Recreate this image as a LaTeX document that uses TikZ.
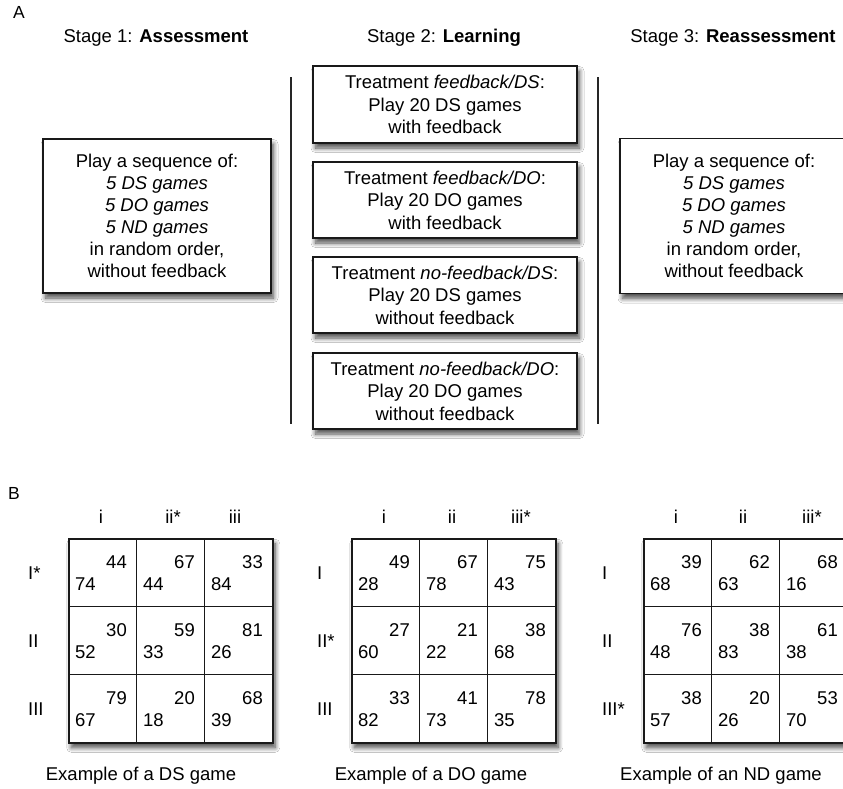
\documentclass[tikz,border=0pt]{standalone}
\usepackage{fontspec}
\setmainfont{Liberation Sans}
\usetikzlibrary{shadows.blur}
\tikzset{
  txt/.style={font=\fontsize{18.5}{22.5}\selectfont, inner sep=0pt, text=black},
  lbl/.style={font=\fontsize{17.5}{20}\selectfont, inner sep=0pt, text=black},
  shad/.style={blur shadow={shadow xshift=2.5pt, shadow yshift=-5pt, shadow blur radius=4.5pt, shadow blur steps=10, shadow opacity=70}},
  bx/.style={draw=black!90, line width=1.5pt, fill=white, align=center, inner sep=0pt,
     font=\fontsize{18.5}{22}\selectfont, text=black, shad},
  tbx/.style={bx, font=\fontsize{18.5}{22.5}\selectfont, minimum width=264pt},
  sepline/.style={draw=black!85, line width=1.3pt},
  gridframe/.style={draw=black!90, line width=1.5pt, fill=white, inner sep=0pt, shad},
  cellst/.style={draw=black!90, line width=1.3pt, inner sep=0pt, minimum width=68pt, minimum height=68pt},
  num/.style={font=\fontsize{18.5}{22}\selectfont, inner sep=0pt, text=black},
}
\newcommand\gamegrid[3]{%
  \node[gridframe, anchor=north west, minimum width=204pt, minimum height=204pt] (#1) at (#2,538) {};
  \foreach \cc/\rr/\tp/\bt in {#3} {
    \node[cellst, anchor=north west] (#1-\rr-\cc) at ({#2+(\cc-1)*68},{538+(\rr-1)*68}) {};
    \node[num, anchor=base east] (#1-\rr-\cc-t) at ({#2+\cc*68-9},{538+(\rr-1)*68+30}) {\tp};
    \node[num, anchor=base west] (#1-\rr-\cc-b) at ({#2+(\cc-1)*68+7},{538+(\rr-1)*68+52}) {\bt};
  }
}
\begin{document}
\begin{tikzpicture}[x=1pt,y=-1pt]
\useasboundingbox (0,0) rectangle (843,788);
\clip (0,0) rectangle (843,788);
\fill[white] (0,0) rectangle (843,788);

% Panel A
\node[lbl, anchor=base west] (labA) at (13,18) {A};
\node[txt, anchor=base] (h1) at (156,42) {Stage 1: \textbf{Assessment}};
\node[txt, anchor=base] (h2) at (444,42) {Stage 2: \textbf{Learning}};
\node[txt, anchor=base] (h3) at (733,42) {Stage 3: \textbf{Reassessment}};

\coordinate (s1t) at (291,77);
\coordinate (s1b) at (291,424);
\coordinate (s2t) at (598,77);
\coordinate (s2b) at (598,424);
\draw[sepline] (s1t) -- (s1b);
\draw[sepline] (s2t) -- (s2b);

\node[bx, minimum width=228pt, minimum height=154pt] (assess) at (157,216)
  {Play a sequence of:\\ \textit{5 DS games}\\ \textit{5 DO games}\\ \textit{5 ND games}\\ in random order,\\ without feedback};
\node[bx, minimum width=228pt, minimum height=155pt] (reassess) at (734,216)
  {Play a sequence of:\\ \textit{5 DS games}\\ \textit{5 DO games}\\ \textit{5 ND games}\\ in random order,\\ without feedback};

\node[tbx, minimum height=77pt] (t1) at (445,104.5)
  {Treatment \textit{feedback/DS}:\\ Play 20 DS games\\ with feedback};
\node[tbx, minimum height=76pt] (t2) at (445,200)
  {Treatment \textit{feedback/DO}:\\ Play 20 DO games\\ with feedback};
\node[tbx, minimum height=76pt] (t3) at (445,295)
  {Treatment \textit{no-feedback/DS}:\\ Play 20 DS games\\ without feedback};
\node[tbx, minimum height=76pt] (t4) at (445,391)
  {Treatment \textit{no-feedback/DO}:\\ Play 20 DO games\\ without feedback};

% Panel B
\node[lbl, anchor=base west] (labB) at (8,499) {B};

% Grid 1
\gamegrid{ga}{68}{1/1/44/74, 2/1/67/44, 3/1/33/84,
                  1/2/30/52, 2/2/59/33, 3/2/81/26,
                  1/3/79/67, 2/3/20/18, 3/3/68/39}
\node[txt, anchor=base] (ga-c1) at (101,523) {i};
\node[txt, anchor=base] (ga-c2) at (173,523) {ii*};
\node[txt, anchor=base] (ga-c3) at (235,523) {iii};
\node[txt, anchor=base west] (ga-r1) at (28,579) {I*};
\node[txt, anchor=base west] (ga-r2) at (28,647) {II};
\node[txt, anchor=base west] (ga-r3) at (28,715) {III};
\node[txt, anchor=base] (ga-cap) at (141,780) {Example of a DS game};

% Grid 2
\gamegrid{gb}{351}{1/1/49/28, 2/1/67/78, 3/1/75/43,
                   1/2/27/60, 2/2/21/22, 3/2/38/68,
                   1/3/33/82, 2/3/41/73, 3/3/78/35}
\node[txt, anchor=base] (gb-c1) at (384,523) {i};
\node[txt, anchor=base] (gb-c2) at (452,523) {ii};
\node[txt, anchor=base] (gb-c3) at (521,523) {iii*};
\node[txt, anchor=base west] (gb-r1) at (317,579) {I};
\node[txt, anchor=base west] (gb-r2) at (317,647) {II*};
\node[txt, anchor=base west] (gb-r3) at (317,715) {III};
\node[txt, anchor=base] (gb-cap) at (431,780) {Example of a DO game};

% Grid 3
\gamegrid{gc}{643}{1/1/39/68, 2/1/62/63, 3/1/68/16,
                   1/2/76/48, 2/2/38/83, 3/2/61/38,
                   1/3/38/57, 2/3/20/26, 3/3/53/70}
\node[txt, anchor=base] (gc-c1) at (676,523) {i};
\node[txt, anchor=base] (gc-c2) at (743,523) {ii};
\node[txt, anchor=base] (gc-c3) at (812,523) {iii*};
\node[txt, anchor=base west] (gc-r1) at (602,579) {I};
\node[txt, anchor=base west] (gc-r2) at (602,647) {II};
\node[txt, anchor=base west] (gc-r3) at (602,715) {III*};
\node[txt, anchor=base] (gc-cap) at (721,780) {Example of an ND game};
\end{tikzpicture}
\end{document}
